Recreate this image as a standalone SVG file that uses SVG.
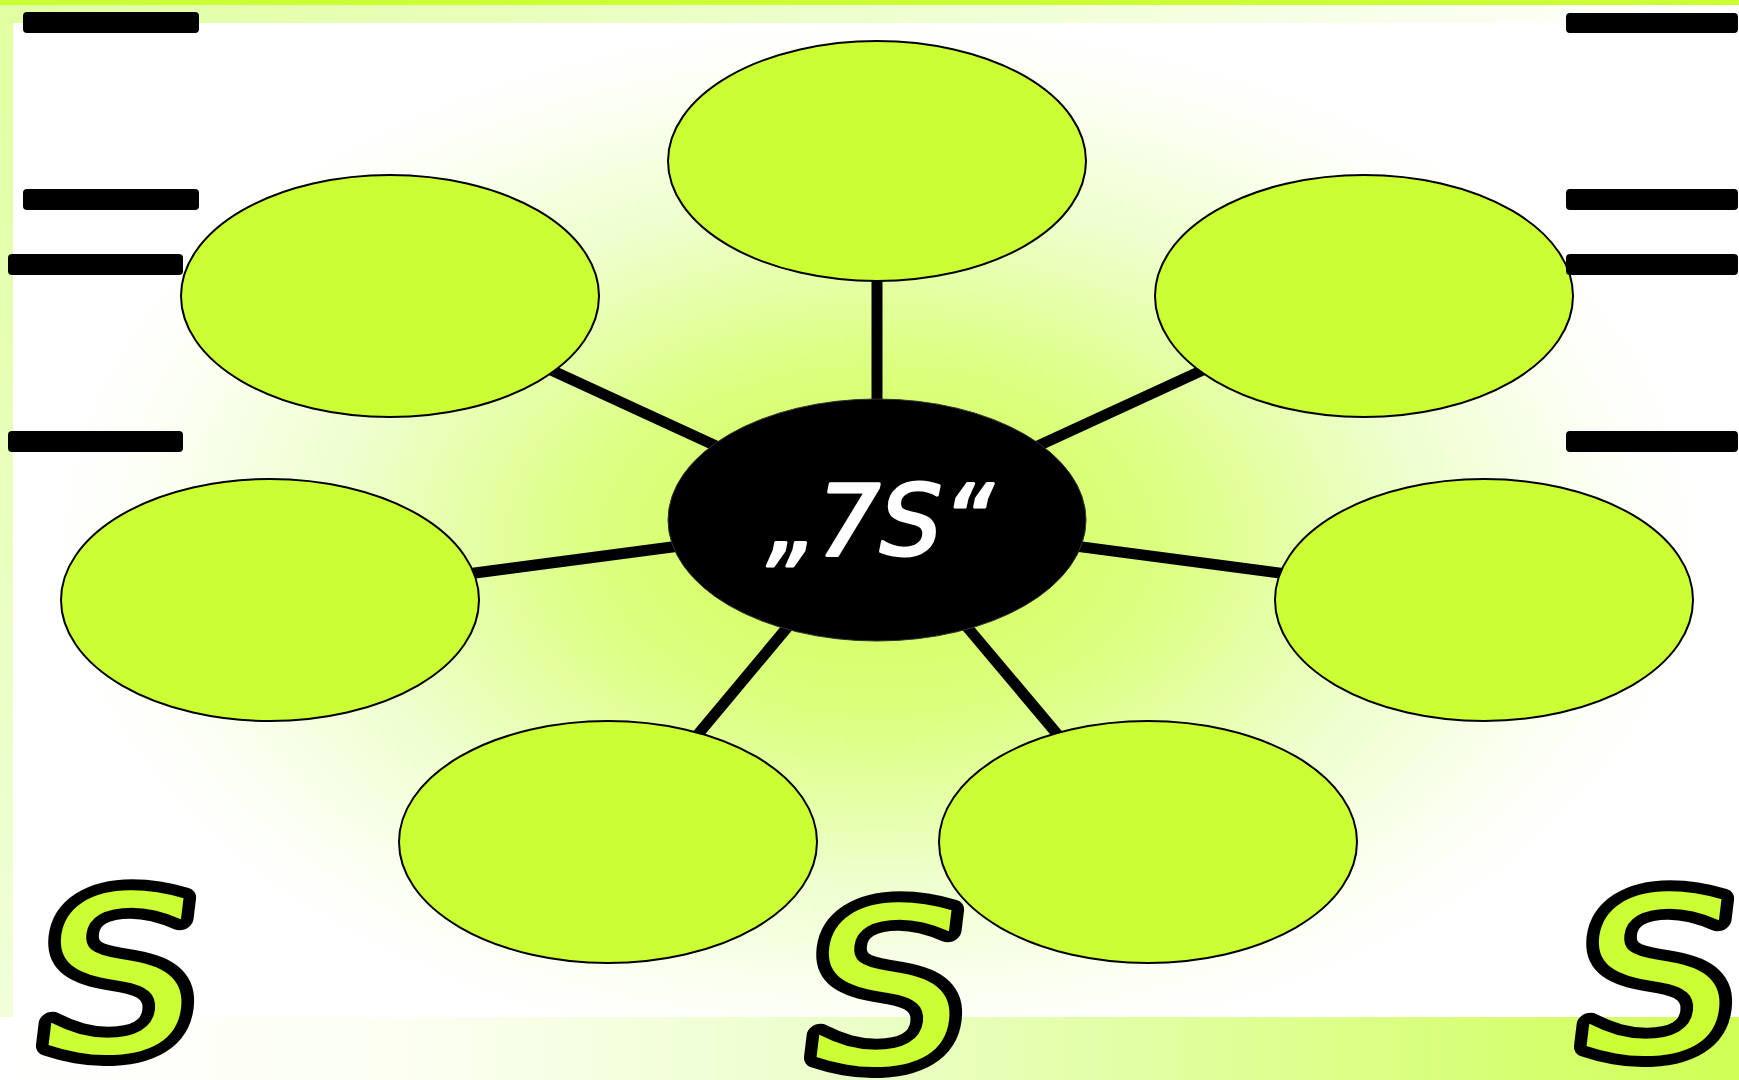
<svg xmlns="http://www.w3.org/2000/svg" width="1739" height="1080" viewBox="0 0 1739 1080">
<defs>
<radialGradient id="gr" gradientUnits="userSpaceOnUse" cx="0" cy="0" r="1" gradientTransform="translate(877 540) scale(820 520)">
<stop offset="0" stop-color="#d2ff55"/>
<stop offset="0.35" stop-color="#dbff80"/>
<stop offset="0.65" stop-color="#eeffcc"/>
<stop offset="0.9" stop-color="#fcfff5"/>
<stop offset="1" stop-color="#ffffff"/>
</radialGradient>
<linearGradient id="gb" x1="0" y1="0" x2="1" y2="0">
<stop offset="0" stop-color="#ffffff"/>
<stop offset="0.25" stop-color="#fbfff0"/>
<stop offset="0.5" stop-color="#eaffc6"/>
<stop offset="1" stop-color="#d0ff55"/>
</linearGradient>
<linearGradient id="gt" x1="0" y1="0" x2="1" y2="0">
<stop offset="0" stop-color="#e0ffa0"/>
<stop offset="0.7" stop-color="#f4ffe0"/>
<stop offset="1" stop-color="#ffffff"/>
</linearGradient>
<linearGradient id="gl" x1="0" y1="0" x2="0" y2="1">
<stop offset="0" stop-color="#e0ffa0"/>
<stop offset="1" stop-color="#f0ffd8"/>
</linearGradient>
</defs>
<style>
.node{fill:#ccff33;stroke:#000;stroke-width:2}
.hub{fill:#000;stroke:#333;stroke-width:1}
.bar{fill:#000}
.conn{stroke:#000;stroke-width:11;fill:none}
.big{font-family:"DejaVu Sans","Liberation Sans",sans-serif;font-size:218px;fill:#ccff33;stroke:#000;stroke-width:22;stroke-linejoin:round;stroke-linecap:round;paint-order:stroke}
.title{font-family:"DejaVu Sans","Liberation Sans",sans-serif;font-style:oblique;font-size:98px;fill:#fff;stroke:#fff;stroke-width:3;stroke-linejoin:round}
</style>
<g id="background">
<rect x="0" y="0" width="1739" height="1080" fill="#ffffff"/>
<rect x="13" y="23" width="1726" height="994" fill="url(#gr)"/>
<rect x="0" y="5" width="1739" height="18" fill="url(#gt)"/>
<rect x="0" y="5" width="13" height="1012" fill="url(#gl)"/>
<rect x="0" y="1017" width="1739" height="63" fill="url(#gb)"/>
<rect x="0" y="0" width="1739" height="5" fill="#ccff33"/>
</g>
<g id="connectors">
<line class="conn" x1="877" y1="520" x2="877" y2="161"/>
<line class="conn" x1="877" y1="520" x2="390" y2="296"/>
<line class="conn" x1="877" y1="520" x2="1364" y2="296"/>
<line class="conn" x1="877" y1="520" x2="270" y2="600"/>
<line class="conn" x1="877" y1="520" x2="1484" y2="600"/>
<line class="conn" x1="877" y1="520" x2="608" y2="842"/>
<line class="conn" x1="877" y1="520" x2="1148" y2="842"/>
</g>
<g id="node-top"><ellipse class="node" cx="877" cy="161" rx="209" ry="120"/></g>
<g id="node-upper-left"><ellipse class="node" cx="390" cy="296" rx="209" ry="121"/></g>
<g id="node-upper-right"><ellipse class="node" cx="1364" cy="296" rx="209" ry="121"/></g>
<g id="node-left"><ellipse class="node" cx="270" cy="600" rx="209" ry="121"/></g>
<g id="node-right"><ellipse class="node" cx="1484" cy="600" rx="209" ry="121"/></g>
<g id="node-bottom-left"><ellipse class="node" cx="608" cy="842" rx="209" ry="121"/></g>
<g id="node-bottom-right"><ellipse class="node" cx="1148" cy="842" rx="209" ry="121"/></g>
<g id="node-center">
<ellipse class="hub" cx="877" cy="520" rx="209" ry="121"/>
<text class="title" x="880" y="555" text-anchor="middle">„7S“</text>
</g>
<g id="bars">
<rect class="bar" x="23" y="12" width="176" height="21" rx="4"/>
<rect class="bar" x="23" y="189" width="176" height="21" rx="4"/>
<rect class="bar" x="8" y="254" width="175" height="21" rx="4"/>
<rect class="bar" x="8" y="431" width="175" height="21" rx="4"/>
<rect class="bar" x="1566" y="13" width="172" height="20" rx="4"/>
<rect class="bar" x="1566" y="189" width="172" height="21" rx="4"/>
<rect class="bar" x="1566" y="254" width="172" height="21" rx="4"/>
<rect class="bar" x="1566" y="431" width="172" height="21" rx="4"/>
</g>
<g id="letters">
<text class="big" transform="translate(110 1052) skewX(-7) scale(1.15 1)" x="0" y="0" text-anchor="middle">S</text>
<text class="big" transform="translate(878 1064) skewX(-7) scale(1.15 1)" x="0" y="0" text-anchor="middle">S</text>
<text class="big" transform="translate(1648 1053) skewX(-7) scale(1.15 1)" x="0" y="0" text-anchor="middle">S</text>
</g>
</svg>
